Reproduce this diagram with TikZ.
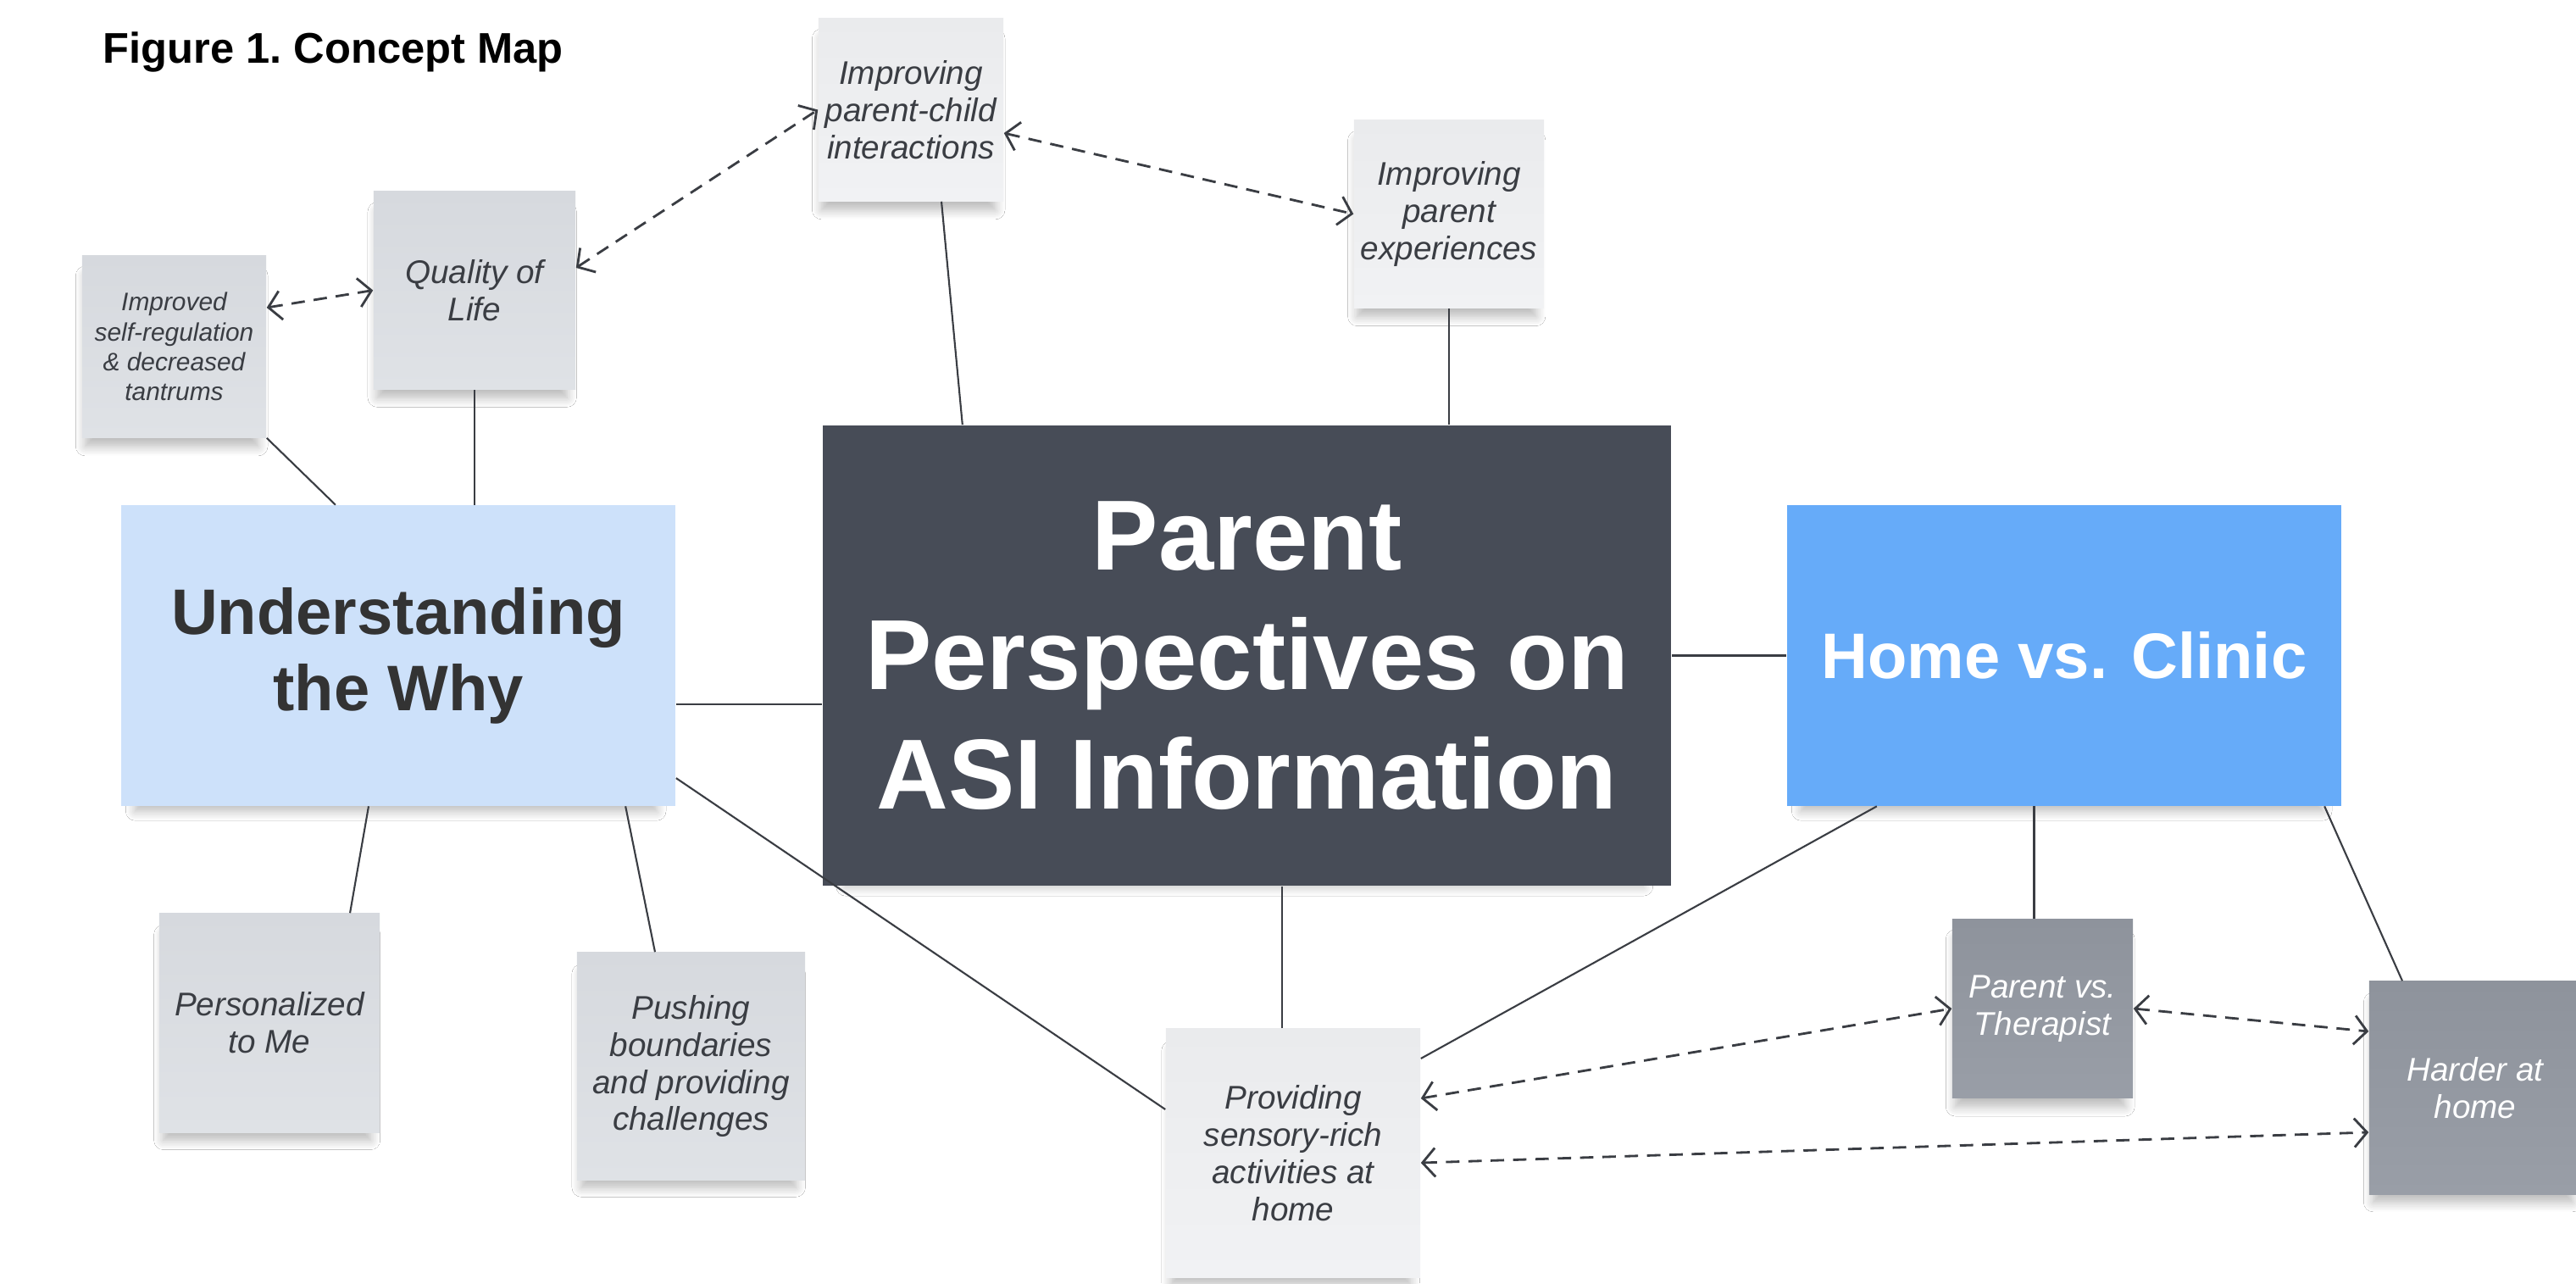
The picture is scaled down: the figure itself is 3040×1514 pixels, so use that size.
\documentclass[tikz,border=0pt]{standalone}
\usepackage{fontspec}
\setmainfont{Liberation Sans}
\usetikzlibrary{arrows.meta,positioning,shadows.blur}

\definecolor{hubfill}{HTML}{474C57}
\definecolor{whyfill}{HTML}{CDE1FA}
\definecolor{homefill}{HTML}{66ABF9}
\definecolor{grayTop}{HTML}{D6D9DE}
\definecolor{grayBot}{HTML}{DFE2E6}
\definecolor{lightTop}{HTML}{EAEBED}
\definecolor{lightBot}{HTML}{F1F2F4}
\definecolor{darkTop}{HTML}{8E939C}
\definecolor{darkBot}{HTML}{999EA7}
\definecolor{ink}{HTML}{3A3D43}

\begin{document}
\begin{tikzpicture}[
    x=0.01cm, y=-0.01cm,
    >={Straight Barb[length=1.5mm,width=3.4mm]},
    card/.style={rectangle, inner sep=0pt, align=center,
                blur shadow={shadow xshift=-0.3mm, shadow yshift=-1.8mm, shadow scale=0.94,
                             shadow blur radius=1.2mm, shadow blur steps=8, shadow opacity=28}},
    hub/.style={card, fill=hubfill, text=white, font=\bfseries\fontsize{33.4}{40}\selectfont,
                minimum width=10.01cm, minimum height=5.43cm},
    topic/.style={card, font=\bfseries\fontsize{21.6}{25.5}\selectfont,
                minimum width=6.54cm, minimum height=3.54cm},
    note/.style={card, text=ink, font=\itshape\fontsize{11}{12.5}\selectfont},
    graynote/.style={note, top color=grayTop, bottom color=grayBot},
    lightnote/.style={note, top color=lightTop, bottom color=lightBot},
    darknote/.style={note, top color=darkTop, bottom color=darkBot, text=white},
    link/.style={ink, line width=0.6pt},
    pair/.style={<->, ink, line width=0.8pt, dash pattern=on 4.5pt off 3pt}
]
    \path[use as bounding box, fill=white] (0,0) rectangle (3040,1514);

    \node[anchor=west, inner sep=0pt, font=\bfseries\fontsize{14.4}{17}\selectfont] (title) at (121,62) {Figure 1.\ Concept Map};

    % main topics
    \node[hub] (central) at (1471.5,773.5) {Parent\\Perspectives on\\ASI Information};
    \node[topic, fill=whyfill, text=black!80, left=1.72cm of central] (why) {Understanding\\the Why};
    \node[topic, fill=homefill, text=white, right=1.35cm of central] (home) {Home vs. Clinic};

    % sticky notes
    \node[graynote, minimum width=2.17cm, minimum height=2.14cm, font=\itshape\fontsize{8.5}{10}\selectfont] (selfreg) at (205.5,409)
        {Improved\\self-regulation\\\& decreased\\tantrums};
    \node[graynote, minimum width=2.38cm, minimum height=2.33cm] (qol) at (560,342.5) {Quality of\\Life};
    \node[lightnote, minimum width=2.18cm, minimum height=2.15cm] (pcint) at (1075,129.5) {Improving\\parent-child\\interactions};
    \node[lightnote, minimum width=2.24cm, minimum height=2.21cm] (pexp) at (1710,252.5) {Improving\\parent\\experiences};
    \node[graynote, minimum width=2.60cm, minimum height=2.58cm] (pers) at (318,1207) {Personalized\\to Me};
    \node[graynote, minimum width=2.69cm, minimum height=2.68cm] (push) at (815.5,1258)
        {Pushing\\boundaries\\and providing\\challenges};
    \node[lightnote, minimum width=3.00cm, minimum height=2.93cm] (prov) at (1526,1360.5)
        {Providing\\sensory-rich\\activities at\\home};
    \node[darknote, minimum width=2.13cm, minimum height=2.10cm] (pvt) at (2410.5,1190) {Parent vs.\\Therapist};
    \node[darknote, minimum width=2.50cm, minimum height=2.51cm] (harder) at (2921,1283.5) {Harder at\\home};

    % solid links
    \draw[link] (selfreg.south east) -- ([xshift=-7.4mm]why.north);
    \draw[link] (qol.south) -- (qol.south |- why.north);
    \draw[link] ([xshift=3.6mm]pcint.south) -- ([xshift=-33.55mm]central.north);
    \draw[link] (pexp.south) -- (pexp.south |- central.north);
    \draw[link] ([yshift=-5.7mm]why.east) -- ([yshift=-5.7mm]central.west);
    \draw[link] ([xshift=-3.5mm]why.south) -- ([xshift=9.5mm]pers.north);
    \draw[link] ([xshift=26.8mm]why.south) -- ([xshift=-4.25mm]push.north);
    \draw[link] ([yshift=-14.45mm]why.east) -- ([yshift=5.15mm]prov.west);
    \draw[link] ([xshift=-1.3mm]prov.north) -- ([xshift=-1.3mm]prov.north |- central.south);
    \draw[link] (central) -- (home);
    \draw[link] ([xshift=-22.1mm]home.south) -- ([yshift=11.15mm]prov.east);
    \draw[link] ([xshift=-1mm]pvt.north) -- ([xshift=-1mm]pvt.north |- home.south);
    \draw[link] ([xshift=30.7mm]home.south) -- ([xshift=-8.6mm]harder.north);

    % dashed two-way links
    \draw[pair] ([yshift=4.6mm]selfreg.east) -- (qol.west);
    \draw[pair] ([yshift=2.65mm]qol.east) -- (pcint.west);
    \draw[pair] ([yshift=-2.75mm]pcint.east) -- (pexp.west);
    \draw[pair] ([yshift=6.45mm]prov.east) -- (pvt.west);
    \draw[pair] (pvt.east) -- ([yshift=6.65mm]harder.west);
    \draw[pair] ([yshift=-1.15mm]prov.east) -- ([yshift=-5.25mm]harder.west);
\end{tikzpicture}
\end{document}
